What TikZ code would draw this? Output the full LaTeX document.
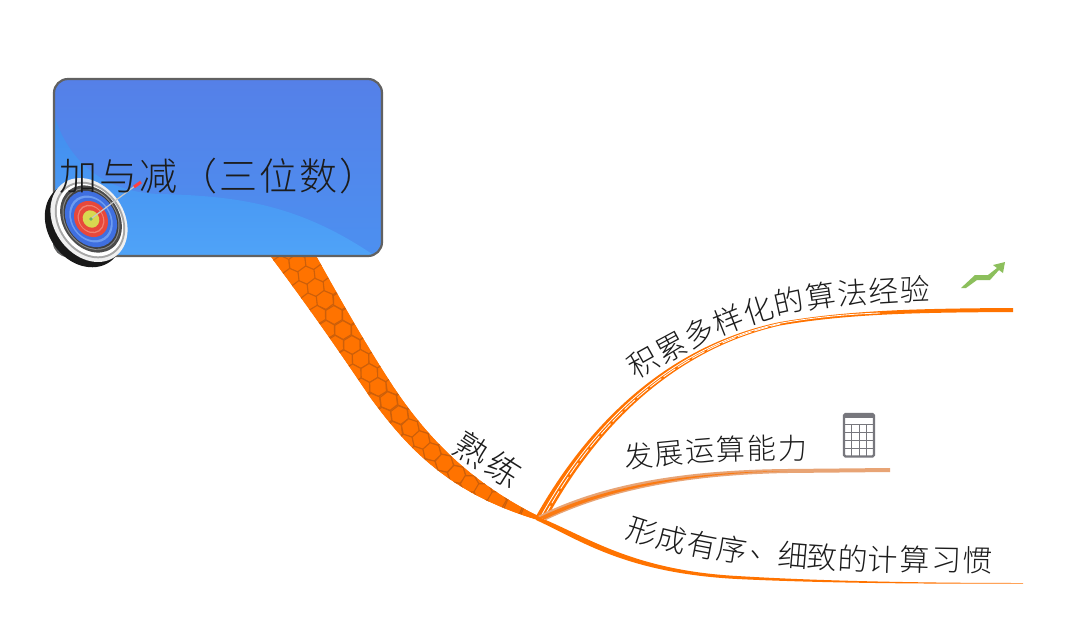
\documentclass[tikz,border=0pt]{standalone}
\usepackage{fontspec}
\usetikzlibrary{decorations.text}
\newfontfamily\cjk{Noto Sans CJK SC Light}
\newfontfamily\cjkwide[LetterSpace=5.2]{Noto Sans CJK SC Light}
\definecolor{ink}{HTML}{1C1C1C}
\definecolor{orng}{HTML}{FF7300}
\definecolor{hexl}{HTML}{CC5F0A}
\definecolor{pale}{HTML}{E8A475}
\definecolor{boxtop}{HTML}{5580E8}
\definecolor{boxmid}{HTML}{4C90F0}
\definecolor{lowtop}{HTML}{418CEE}
\definecolor{lowbot}{HTML}{50A4F8}
\definecolor{leaf}{HTML}{8CBF5C}
\definecolor{calc}{HTML}{77777D}
\definecolor{tblue}{HTML}{3F6FE0}
\definecolor{tblueb}{HTML}{6E9CF0}
\definecolor{tred}{HTML}{E8483A}
\definecolor{tredb}{HTML}{F08070}
\definecolor{tyel}{HTML}{D8D850}
\newcount\hexcount
\newcommand{\hexcell}[1]{\draw[hexline,shift={(0pt,#1)}] (30:9.5pt)--(90:9.5pt)--(150:9.5pt)--(210:9.5pt)--(270:9.5pt)--(330:9.5pt)--cycle;}
\newcommand{\curvedtext}[3]{\path[decorate,decoration={text along path,text align={fit to path},text={|\cjk\fontsize{#1}{#1}\selectfont\color{ink}|#3}}] plot[smooth,tension=.6] coordinates {#2};}
\newcommand{\disc}[4]{\fill[#1] (#2) [rotate around={-55:(#2)}] ellipse [x radius=#3pt,y radius=#4pt];}
\tikzset{
  hexline/.style={draw=hexl,line width=1.1pt,fill=orng},
  petal/.style={fill=orng,draw=none},
  whiteline/.style={draw=white,line width=.8pt},
  title/.style={font=\cjkwide\fontsize{38}{38}\selectfont,text=ink,inner sep=0pt,anchor=west},
  glyph/.style={font=\cjk\fontsize{30}{30}\selectfont,text=ink,inner sep=0pt},
}
\begin{document}
\begin{tikzpicture}[x=1pt,y=-1pt]
\useasboundingbox (0,0) rectangle (1080,633);
\fill[white] (0,0) rectangle (1080,633);
% ribbon
\begin{scope}
\clip (262,245) .. controls (300,295) and (335,345) .. (370,397) .. controls (412,455) and (455,495) .. (538,520)
 -- (538,516) .. controls (470,482) and (425,437) .. (387,377) .. controls (360,335) and (335,290) .. (310,245) -- cycle;
\fill[orng] (250,240) rectangle (550,530);
\foreach \xa/\ya/\xb/\yb in {285/245/293/257,293/257/325/300,325/300/352/345,352/345/378/387,378/387/405/422,405/422/432/452,432/452/463/480,463/480/497/500,497/500/538/518}{
  \pgfmathsetmacro{\seglen}{veclen(\xb-\xa,\yb-\ya)}
  \pgfmathsetmacro{\segang}{atan2(\ya-\yb,\xb-\xa)}
  \pgfmathtruncatemacro{\segn}{max(1,round(\seglen/8.2))}
  \foreach \k in {1,...,\segn}{
    \pgfmathsetmacro{\px}{\xa+(\xb-\xa)*\k/\segn}
    \pgfmathsetmacro{\py}{\ya+(\yb-\ya)*\k/\segn}
    \global\advance\hexcount by 1
    \begin{scope}[shift={(\px,\py)},rotate=\segang]
      \ifodd\hexcount \hexcell{0pt}\else \hexcell{14.25pt}\hexcell{-14.25pt}\fi
    \end{scope}
  }
}
\end{scope}
\coordinate (hub) at (538,518);
% top branch
\fill[petal] (535,518) .. controls (590,420) and (670,345) .. (780,322) .. controls (850,310) and (920,308.5) .. (1013,308)
 -- (1013,312) .. controls (920,312.5) and (850,313.5) .. (780,325.5) .. controls (676,349) and (598,424) .. (547,518) -- cycle;
\draw[whiteline] (540,518) .. controls (593,422) and (672,346.5) .. (780,323.3) .. controls (815,317) and (850,314) .. (880,313);
\draw[whiteline,dash pattern=on 14pt off 3pt] (543.5,518) .. controls (595,423) and (674,348) .. (780,324);
% middle branch
\fill[pale] (538,516) .. controls (600,485) and (680,470) .. (787,469) -- (890,468) -- (890,472) -- (787,473) .. controls (680,475) and (605,492) .. (546,520) -- cycle;
\fill[orng!85!pale] (538,518) .. controls (600,488) and (680,472) .. (787,471) .. controls (680,474) and (605,490) .. (545,519) -- cycle;
% bottom branch
\fill[petal] (536,516) .. controls (585,535) and (630,570) .. (737,576) .. controls (820,581) and (920,583) .. (1023,583)
 -- (1023,583.6) .. controls (920,584) and (820,583) .. (737,579) .. controls (625,573) and (580,540) .. (536,520) -- cycle;
% central box
\path[rounded corners=14pt,top color=boxtop,bottom color=boxmid] (54,79) rectangle (382,256);
\begin{scope}
\clip[rounded corners=14pt] (54,79) rectangle (382,256);
\path[top color=lowtop,bottom color=lowbot] (54,113) .. controls (62,145) and (90,192) .. (160,194)
  .. controls (240,196) and (300,205) .. (375,256) -- (54,262) -- cycle;
\end{scope}
\draw[rounded corners=14pt,draw=black!62,line width=2.2pt] (54,79) rectangle (382,256);
% target
\disc{black!90}{84,225}{45}{36}
\disc{black!6}{89,220}{45}{35}
\disc{black!35}{90,220}{41}{32}
\disc{white}{90,220}{39}{30}
\disc{black!70}{91,219}{36}{28}
\disc{black!45}{91,219}{33}{26}
\disc{black!75}{91,219}{32}{25}
\disc{tblue}{91,219}{30}{24}
\disc{tblueb}{91,219}{25}{20}
\disc{tblue}{91,219}{22.5}{18.5}
\disc{tred}{91,219}{19}{16}
\disc{tredb}{91,219}{15}{12.5}
\disc{tred}{91,219}{13.5}{11.5}
\disc{tyel}{91,219}{9}{8}
\fill[green!50!black!60] (91,219) circle (1.8pt);
\draw[black!22,line width=1.2pt] (92,218) -- (135,186);
\draw[red!75,line width=3pt] (134,187) -- (141,182);
% icons
\fill[leaf] (961,288)--(975,275)--(988,275)--(997,268)--(993,265)--(1005,262)--(1003,273)--(999,270)--(990,280)--(977,280)--(966,288)--cycle;
\draw[calc,line width=2.2pt,rounded corners=1.5pt] (844,414) rectangle (874,456.5);
\fill[calc] (844,414) rectangle (874,418);
\draw[calc,line width=1.2pt] (844,424.5) -- (874,424.5);
\draw[calc,line width=1pt] (844,432.5)--(874,432.5) (844,440.5)--(874,440.5) (844,448.5)--(874,448.5)
  (851.5,424.5)--(851.5,456.5) (859,424.5)--(859,456.5) (866.5,424.5)--(866.5,456.5);
% text
\node[title] (centre) at (59,176) {加与减（三位数）};
\curvedtext{34}{(451,451)(464.5,460.7)(497.5,480.7)(511,490)}{熟练}
\curvedtext{30}{(636,380)(705,343)(765.5,319.5)(824,307)(886,302)(930,300)}{积累多样化的算法经验}
\curvedtext{29}{(625.5,469)(640,467)(703,461)(731.5,460)(792,459)(807,459)}{发展运算能力}
\node[glyph,rotate=-18] (c1) at (642,532) {形};
\node[glyph,rotate=-14] (c2) at (672,539) {成};
\node[glyph,rotate=-11] (c3) at (702,545) {有};
\node[glyph,rotate=-9] (c4) at (732,550) {序};
\node[glyph,rotate=-7] (c5) at (765,556) {、};
\node[glyph,rotate=-5] (c6) at (793,555) {细};
\node[glyph,rotate=-4] (c7) at (822,557) {致};
\node[glyph,rotate=-3] (c8) at (853,558) {的};
\node[glyph,rotate=-2] (c9) at (883,560) {计};
\node[glyph,rotate=-2] (c10) at (915,560) {算};
\node[glyph,rotate=-1] (c11) at (947,560) {习};
\node[glyph,rotate=-1] (c12) at (978,560) {惯};
\end{tikzpicture}
\end{document}
